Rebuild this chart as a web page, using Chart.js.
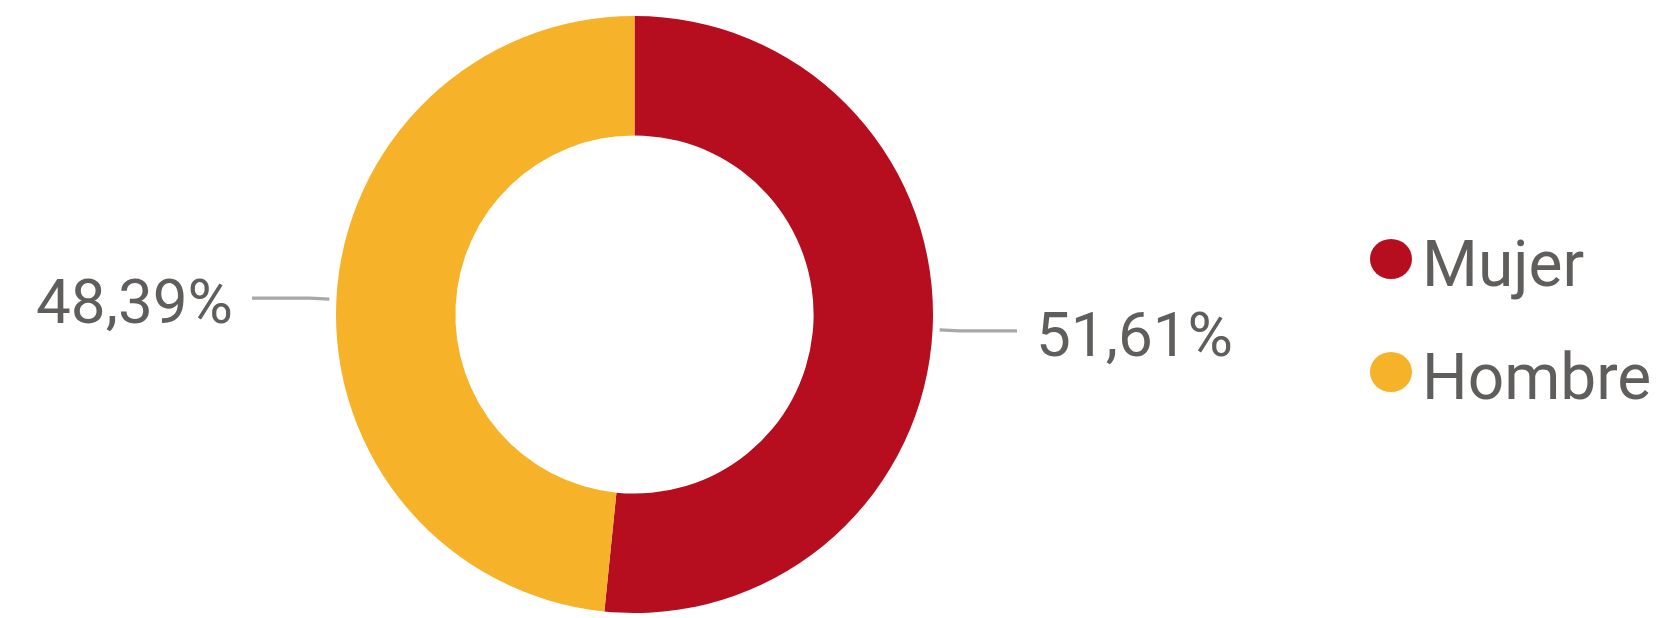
<!DOCTYPE html>
<html>
<head>
<meta charset="utf-8">
<script src="https://cdn.jsdelivr.net/npm/chart.js@4.4.1/dist/chart.umd.min.js"></script>
<style>
  html, body { margin: 0; padding: 0; background: #ffffff; }
  #wrap { width: 1657px; height: 618px; position: relative; }
</style>
</head>
<body>
<div id="wrap"><canvas id="c" width="1657" height="618"></canvas></div>
<script>
const categories = ['Mujer', 'Hombre'];
const shareValues = [51.61, 48.39];
const sliceColors = ['#B60D1F', '#F6B228'];

const TEXT_COLOR = '#605E5C';
const FONT_FAMILY = 'Roboto, "Liberation Sans", sans-serif';

function fmtPct(v) {
  return v.toFixed(2).replace('.', ',') + '%';
}

const labelPlugin = {
  id: 'sliceLabels',
  afterDraw(chart) {
    const ctx = chart.ctx;
    const meta = chart.getDatasetMeta(0);
    ctx.save();
    meta.data.forEach((arc, i) => {
      const p = arc.getProps(['x', 'y', 'startAngle', 'endAngle', 'outerRadius'], true);
      const mid = (p.startAngle + p.endAngle) / 2;
      const cos = Math.cos(mid), sin = Math.sin(mid);
      const r0 = p.outerRadius + 7;
      const r1 = p.outerRadius + 27;
      const x0 = p.x + cos * r0, y0 = p.y + sin * r0;
      const x1 = p.x + cos * r1, y1 = p.y + sin * r1;
      const right = cos >= 0;
      const x2 = right ? p.x + p.outerRadius + 84 : p.x - p.outerRadius - 84;
      ctx.strokeStyle = '#A8A8A8';
      ctx.lineWidth = 3.2;
      ctx.lineJoin = 'round';
      ctx.beginPath();
      ctx.moveTo(x0, y0);
      ctx.lineTo(x1, y1);
      ctx.lineTo(x2, y1);
      ctx.stroke();
      ctx.fillStyle = TEXT_COLOR;
      ctx.font = '62px ' + FONT_FAMILY;
      ctx.textBaseline = 'alphabetic';
      ctx.textAlign = right ? 'left' : 'right';
      const tx = right ? x2 + 19 : x2 - 19;
      ctx.fillText(fmtPct(shareValues[i]), tx, y1 + 25);
    });

    // legend
    const lx = 1391;
    const ly = [259, 372];
    categories.forEach((name, i) => {
      ctx.fillStyle = sliceColors[i];
      ctx.beginPath();
      ctx.ellipse(lx, ly[i], 21, 20, 0, 0, Math.PI * 2);
      ctx.fill();
      ctx.fillStyle = TEXT_COLOR;
      ctx.font = '64px ' + FONT_FAMILY;
      ctx.textAlign = 'left';
      ctx.textBaseline = 'alphabetic';
      ctx.fillText(name, 1422, ly[i] + 27);
    });
    ctx.restore();
  }
};

function draw() {
  new Chart(document.getElementById('c'), {
    type: 'doughnut',
    data: {
      labels: categories,
      datasets: [{
        data: shareValues,
        backgroundColor: sliceColors,
        borderWidth: 0,
        hoverOffset: 0
      }]
    },
    options: {
      responsive: false,
      animation: false,
      cutout: '60%',
      layout: { padding: { left: 336, right: 724, top: 16, bottom: 5 } },
      plugins: {
        legend: { display: false },
        tooltip: { enabled: false }
      }
    },
    plugins: [labelPlugin]
  });
}

if (document.fonts && document.fonts.load) {
  Promise.all([document.fonts.load('62px Roboto'), document.fonts.load('64px Roboto')])
    .then(draw, draw);
} else {
  draw();
}
</script>
</body>
</html>
